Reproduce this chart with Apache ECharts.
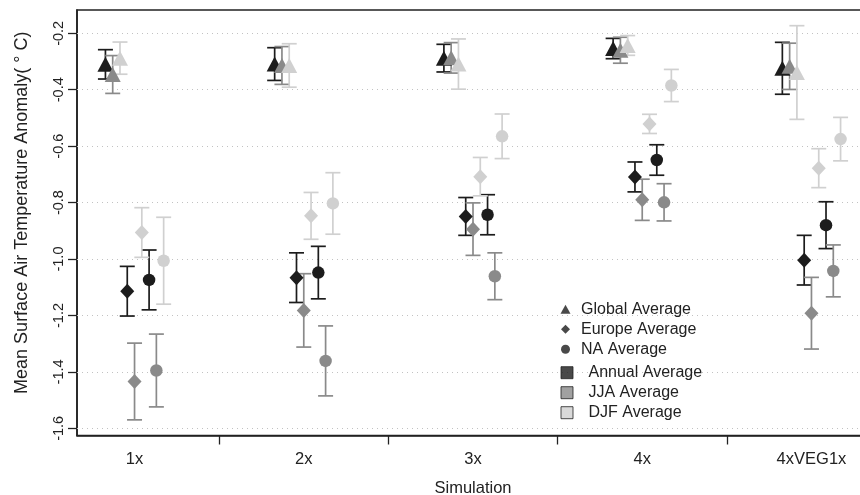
<!DOCTYPE html>
<html>
<head>
<meta charset="utf-8">
<script src="https://cdn.jsdelivr.net/npm/echarts@6/dist/echarts.min.js"></script>
<style>
  html, body { margin: 0; padding: 0; background: #fff; }
  #chart { width: 860px; height: 495px; }
</style>
</head>
<body>
<div id="chart"></div>
<script>
// ---------------- data ----------------
const categories = ['1x', '2x', '3x', '4x', '4xVEG1x'];
const yTicks = [-0.2, -0.4, -0.6, -0.8, -1.0, -1.2, -1.4, -1.6];
const regions = ['Global Average', 'Europe Average', 'NA Average'];
const seasons = ['Annual Average', 'JJA Average', 'DJF Average'];

// means and error half-widths (°C), one value per simulation
const globalAnnual    = [-0.310, -0.309, -0.288, -0.254, -0.324];
const globalAnnualErr = [0.052, 0.058, 0.049, 0.036, 0.092];
const globalJJA       = [-0.346, -0.314, -0.287, -0.260, -0.317];
const globalJJAErr    = [0.067, 0.067, 0.054, 0.046, 0.082];
const globalDJF       = [-0.288, -0.314, -0.309, -0.243, -0.339];
const globalDJFErr    = [0.057, 0.077, 0.089, 0.035, 0.166];

const europeAnnual    = [-1.114, -1.066, -0.849, -0.709, -1.004];
const europeAnnualErr = [0.088, 0.088, 0.067, 0.053, 0.088];
const europeJJA       = [-1.434, -1.182, -0.894, -0.790, -1.192];
const europeJJAErr    = [0.136, 0.130, 0.093, 0.073, 0.127];
const europeDJF       = [-0.906, -0.847, -0.708, -0.521, -0.678];
const europeDJFErr    = [0.088, 0.083, 0.068, 0.034, 0.069];

const naAnnual        = [-1.074, -1.048, -0.843, -0.649, -0.880];
const naAnnualErr     = [0.106, 0.093, 0.071, 0.054, 0.083];
const naJJA           = [-1.395, -1.361, -1.061, -0.799, -1.042];
const naJJAErr        = [0.129, 0.124, 0.083, 0.066, 0.092];
const naDJF           = [-1.006, -0.803, -0.565, -0.385, -0.575];
const naDJFErr        = [0.154, 0.109, 0.079, 0.057, 0.077];

// ---------------- styling ----------------
const FONT = "'Liberation Sans', Arial, Helvetica, sans-serif";
const seasonColors = ['#1c1c1c', '#8a8a8a', '#d0d0d0'];
const regionSymbols = ['triangle', 'diamond', 'circle'];
const regionSizes = [[16, 15], [14, 15], 12.5];
const OFFSET = 0.043;

const table = [
  [[globalAnnual, globalAnnualErr], [globalJJA, globalJJAErr], [globalDJF, globalDJFErr]],
  [[europeAnnual, europeAnnualErr], [europeJJA, europeJJAErr], [europeDJF, europeDJFErr]],
  [[naAnnual, naAnnualErr], [naJJA, naJJAErr], [naDJF, naDJFErr]]
];

function makeErrRender(color) {
  return function (params, api) {
    const x = api.value(0), lo = api.value(1), hi = api.value(2);
    const p1 = api.coord([x, hi]);
    const p2 = api.coord([x, lo]);
    const w = 7.5;
    const st = { stroke: color, lineWidth: 1.7, fill: null };
    return {
      type: 'group',
      children: [
        { type: 'line', shape: { x1: p1[0], y1: p1[1], x2: p2[0], y2: p2[1] }, style: st },
        { type: 'line', shape: { x1: p1[0] - w, y1: p1[1], x2: p1[0] + w, y2: p1[1] }, style: st },
        { type: 'line', shape: { x1: p2[0] - w, y1: p2[1], x2: p2[0] + w, y2: p2[1] }, style: st }
      ]
    };
  };
}

const series = [];
let first = true;
for (let s = 0; s < 3; s++) {
  for (let r = 0; r < 3; r++) {
    const k = r * 3 + s;
    const [vals, errs] = table[r][s];
    const xs = categories.map((c, i) => i + 1 + (k - 4) * OFFSET);
    const errData = vals.map((v, i) => [xs[i], v - errs[i], v + errs[i]]);
    const errSeries = {
      type: 'custom',
      name: regions[r] + ' ' + seasons[s] + ' err',
      renderItem: makeErrRender(seasonColors[s]),
      data: errData,
      silent: true
    };
    if (first) {
      errSeries.markLine = {
        silent: true,
        symbol: 'none',
        z: 1,
        label: { show: false },
        lineStyle: { color: '#c2c2c2', type: [1, 4], width: 1 },
        data: yTicks.map(v => ({ yAxis: v }))
      };
      first = false;
    }
    series.push(errSeries);
    series.push({
      type: 'scatter',
      name: regions[r] + ' ' + seasons[s],
      symbol: regionSymbols[r],
      symbolSize: regionSizes[r],
      itemStyle: { color: seasonColors[s], opacity: 1 },
      data: vals.map((v, i) => [xs[i], v]),
      silent: true
    });
  }
}

// dummy series for the legends
const legendIcons = [
  'path://M5,0L10,9L0,9Z',
  'path://M4,0L8,4L4,8L0,4Z',
  'circle'
];
regions.forEach(n => series.push({ type: 'scatter', name: n, data: [], itemStyle: { color: '#1c1c1c' } }));
seasons.forEach((n, i) => series.push({ type: 'scatter', name: n, data: [], itemStyle: { color: seasonColors[i] } }));

const chart = echarts.init(document.getElementById('chart'), null, { renderer: 'canvas' });
chart.setOption({
  animation: false,
  backgroundColor: '#ffffff',
  textStyle: { fontFamily: FONT },
  grid: {
    left: 77, width: 792, top: 10, bottom: 59.5,
    outerBoundsMode: 'none',
    containLabel: false,
    show: true, borderColor: '#222', borderWidth: 1.6, backgroundColor: 'transparent'
  },
  xAxis: {
    type: 'value',
    min: 0.66, max: 5.34,
    name: 'Simulation',
    nameLocation: 'middle',
    nameGap: 44,
    nameTextStyle: { fontSize: 16.5, color: '#222', fontFamily: FONT },
    axisLine: { show: true, lineStyle: { color: '#222', width: 1.6 } },
    axisTick: { show: true, length: 9, customValues: [1.5, 2.5, 3.5, 4.5], lineStyle: { color: '#222', width: 1.3 } },
    axisLabel: {
      customValues: [1, 2, 3, 4, 5],
      formatter: v => categories[Math.round(v) - 1],
      margin: 15, fontSize: 16.5, color: '#222', fontFamily: FONT
    },
    splitLine: { show: false }
  },
  yAxis: {
    type: 'value',
    min: -1.6254, max: -0.1174,
    name: 'Mean Surface Air Temperature Anomaly( ° C)',
    nameLocation: 'middle',
    nameRotate: 90,
    nameGap: 46,
    nameTextStyle: { fontSize: 18, color: '#222', fontFamily: FONT, padding: [0, 0, 0, 20] },
    axisLine: { show: true, lineStyle: { color: '#222', width: 1.6 } },
    axisTick: { show: true, length: 9, customValues: yTicks, lineStyle: { color: '#222', width: 1.3 } },
    axisLabel: {
      customValues: yTicks,
      rotate: 90,
      formatter: v => v.toFixed(1),
      margin: 11, fontSize: 14.5, color: '#222', fontFamily: FONT
    },
    splitLine: { show: false }
  },
  legend: [
    {
      z: 10,
      data: regions.map((n, i) => ({
        name: n, icon: legendIcons[i],
        itemStyle: { color: '#1c1c1c', borderWidth: 0, decal: 'none' }
      })),
      orient: 'vertical',
      left: 555.5, top: 296.3,
      itemWidth: 21, itemHeight: 9, itemGap: 4,
      symbolKeepAspect: true,
      selectedMode: false,
      textStyle: { fontSize: 16, lineHeight: 16, color: '#222', fontFamily: FONT }
    },
    {
      z: 10,
      data: seasons.map((n, i) => ({
        name: n, icon: 'path://M0,0H12V12H0Z',
        itemStyle: { color: seasonColors[i], borderColor: '#222', borderWidth: 1, decal: 'none' }
      })),
      orient: 'vertical',
      left: 555.5, top: 359.7,
      itemWidth: 33, itemHeight: 12, itemGap: 4,
      symbolKeepAspect: true,
      selectedMode: false,
      textStyle: { fontSize: 16, lineHeight: 16, color: '#222', fontFamily: FONT }
    }
  ],
  series: series
});
</script>
</body>
</html>
